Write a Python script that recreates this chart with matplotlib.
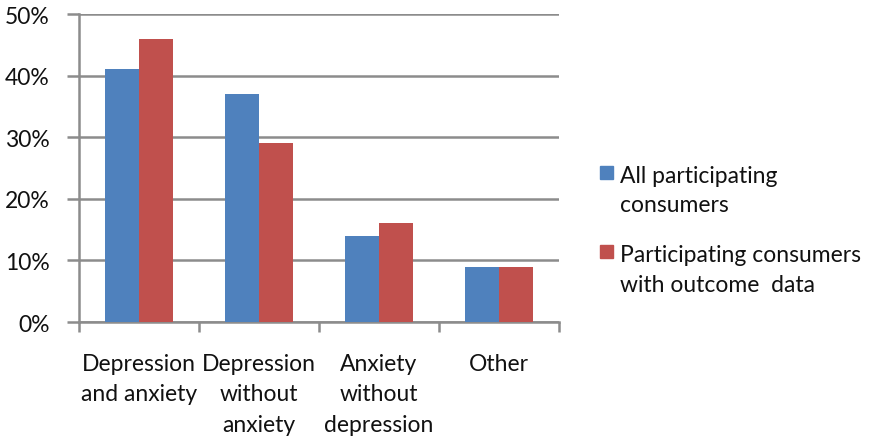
import matplotlib.pyplot as plt
from matplotlib.patches import Rectangle
import numpy as np

categories = ["Depression\nand anxiety", "Depression\nwithout\nanxiety",
              "Anxiety\nwithout\ndepression", "Other"]
all_consumers = [41, 37, 14, 9]
with_outcome = [46, 29, 16, 9]
series_names = ["All participating\nconsumers", "Participating consumers\nwith outcome  data"]
y_ticks = [0, 10, 20, 30, 40, 50]

blue = "#4F81BD"
red = "#C0504D"
grid_gray = "#8C8C8C"
text_color = "#111111"
fs = 16.5
plt.rcParams["font.family"] = ["Lato", "DejaVu Sans"]

W, H = 869, 439
fig = plt.figure(figsize=(W / 100, H / 100), dpi=100)
ax = fig.add_axes([79 / W, 1 - 323 / H, 480 / W, 308 / H])

x = np.arange(len(categories))
bw = 0.285
ax.bar(x - bw / 2, all_consumers, bw, color=blue, zorder=3)
ax.bar(x + bw / 2, with_outcome, bw, color=red, zorder=3)

ax.set_xlim(-0.5, len(categories) - 0.5)
ax.set_ylim(0, 50)

ax.set_yticks(y_ticks)
ax.set_yticklabels([f"{v}%" for v in y_ticks], fontsize=fs, color=text_color)
ax.yaxis.grid(True, color=grid_gray, linewidth=1.8, zorder=0)
ax.tick_params(axis="y", length=9, width=1.8, color=grid_gray, pad=12)

# category boundaries carry the tick marks, centres carry the labels
ax.set_xticks(np.arange(len(categories) + 1) - 0.5)
ax.set_xticklabels([])
ax.set_xticks(x, minor=True)
ax.set_xticklabels(categories, minor=True, fontsize=fs, color=text_color,
                   linespacing=1.58)
ax.tick_params(axis="x", which="major", length=7, width=1.8, color=grid_gray)
ax.tick_params(axis="x", which="minor", length=0, pad=22)

for side in ["top", "right"]:
    ax.spines[side].set_visible(False)
for side in ["left", "bottom"]:
    ax.spines[side].set_color(grid_gray)
    ax.spines[side].set_linewidth(1.8)
ax.set_axisbelow(True)

# legend
entries = [(blue, series_names[0], 167), (red, series_names[1], 246)]
for color, label, top in entries:
    fig.patches.append(Rectangle((600 / W, 1 - (top + 13) / H), 13 / W, 13 / H,
                                 transform=fig.transFigure, color=color))
    fig.text(620 / W, 1 - (top - 1) / H, label, fontsize=fs, color=text_color,
             va="top", ha="left", linespacing=1.5)

fig.savefig("out.png", dpi=100)
